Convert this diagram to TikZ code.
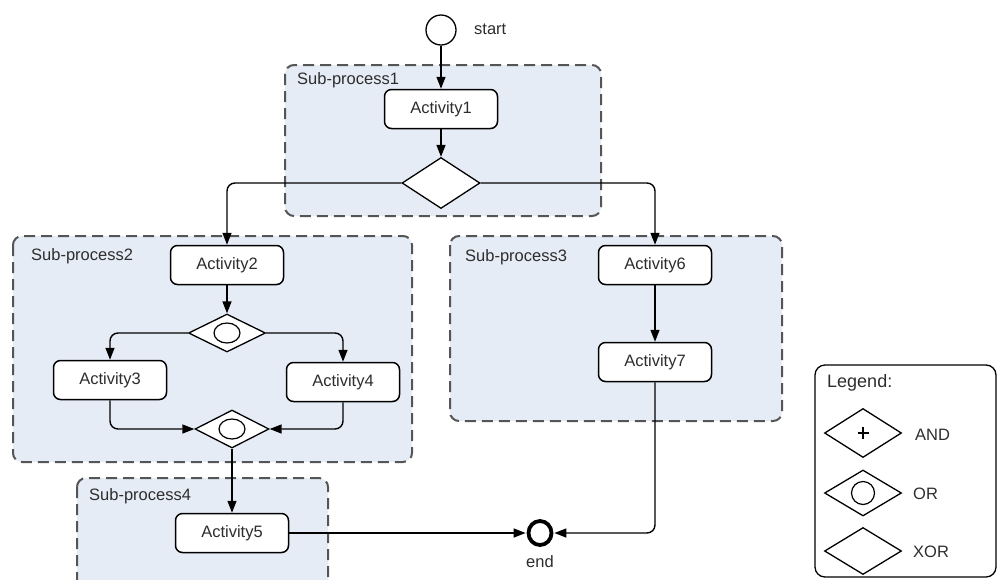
\documentclass[tikz,border=0pt]{standalone}
\usepackage{fontspec}
\setmainfont{Liberation Sans}
\usetikzlibrary{shapes.geometric,arrows.meta}

\definecolor{lanefill}{RGB}{230,236,246}
\definecolor{lanedash}{RGB}{85,85,85}
\definecolor{txt}{RGB}{45,45,45}

\begin{document}
\begin{tikzpicture}[x=1pt,y=-1pt,
  font=\fontsize{16.5}{19}\selectfont, text=txt,
  lane/.style={draw=lanedash, fill=lanefill, line width=2pt,
    dash pattern=on 11pt off 6pt, rounded corners=9pt},
  activity/.style={draw=black, fill=white, line width=1.5pt, rounded corners=7pt,
    minimum width=113pt, minimum height=39pt, inner sep=0pt},
  gate/.style={diamond, draw=black, fill=white, line width=1.3pt, inner sep=0pt,
    minimum width=77pt, minimum height=38pt},
  flow/.style={draw=black, line width=1.4pt, rounded corners=8pt,
    -{Triangle[length=12pt,width=9pt]}},
  lbl/.style={anchor=west, inner sep=0pt}]

\useasboundingbox (0,0) rectangle (998,579);
\clip (0,0) rectangle (998,579);

% sub-process lanes
\draw[lane] (285,65) rectangle (601,216);
\draw[lane] (13,236) rectangle (412,462);
\draw[lane] (450,236) rectangle (782,421);
\draw[lane] (77,478) rectangle (328,640);

\node[lbl] (sp1) at (297,80) {Sub-process1};
\node[lbl] (sp2) at (31,256) {Sub-process2};
\node[lbl] (sp3) at (465,257) {Sub-process3};
\node[lbl] (sp4) at (89,496) {Sub-process4};

% start / end events
\node[circle, draw=black, fill=white, line width=1.3pt, minimum size=30pt, inner sep=0pt] (start) at (441,30) {};
\node[lbl] (startlbl) at (474,29) {start};
\node[ellipse, draw=black, fill=white, line width=3.8pt, minimum width=23pt, minimum height=24pt, inner sep=0pt] (end) at (540,533) {};
\node[inner sep=0pt] (endlbl) at (540,562) {end};

% activities
\node[activity] (a1) at (441,109) {Activity1};
\node[activity] (a2) at (227,265) {Activity2};
\node[activity] (a3) at (110,380) {Activity3};
\node[activity] (a4) at (343,382) {Activity4};
\node[activity] (a5) at (232,533) {Activity5};
\node[activity] (a6) at (655,265) {Activity6};
\node[activity] (a7) at (655,362) {Activity7};

% gateways
\node[gate, minimum width=78pt, minimum height=51pt] (xor1) at (441,183) {};
\node[gate] (or1) at (227,333) {};
\node[gate, minimum width=74pt] (or2) at (232,429) {};
\draw[line width=1.2pt] (or1.center) ellipse [x radius=13, y radius=10];
\draw[line width=1.2pt] (or2.center) ellipse [x radius=13, y radius=10];

% sequence flows
\draw[flow] (start) -- (a1);
\draw[flow] (a1) -- (xor1);
\draw[flow] (xor1.west) -| (a2.north);
\draw[flow] (xor1.east) -| (a6.north);
\draw[flow] (a2) -- (or1);
\draw[flow] (or1.west) -| (a3.north);
\draw[flow] (or1.east) -| (a4.north);
\draw[flow] (a3.south) |- (or2.west);
\draw[flow] (a4.south) |- (or2.east);
\draw[flow] (or2.south) -- (a5.north);
\draw[flow, shorten >=1pt] (a5.east) -- (end.west);
\draw[flow] (a6) -- (a7);
\draw[flow, shorten >=1pt] (a7.south) |- (end.east);

% legend
\node[draw=black, line width=1.3pt, rounded corners=10pt, minimum width=181pt, minimum height=212pt, inner sep=0pt] (legend) at (905.5,471) {};
\node[lbl, font=\fontsize{18}{21}\selectfont] (legtitle) at (827,383) {Legend:};
\node[gate, minimum width=77pt, minimum height=49pt] (gand) at (863,433) {};
\draw[line width=1.6pt] ([xshift=-5.5pt]gand.center) -- ([xshift=5.5pt]gand.center)
  ([yshift=-6pt]gand.center) -- ([yshift=6pt]gand.center);
\node[lbl] (tand) at (915,435) {AND};
\node[gate, minimum width=77pt, minimum height=46pt] (gor) at (863,493) {};
\draw[line width=1.2pt] (gor.center) circle [radius=11.5];
\node[lbl] (tor) at (913,494) {OR};
\node[gate, minimum width=77pt, minimum height=47pt] (gxor) at (863,551) {};
\node[lbl] (txor) at (913,552) {XOR};
\end{tikzpicture}
\end{document}
